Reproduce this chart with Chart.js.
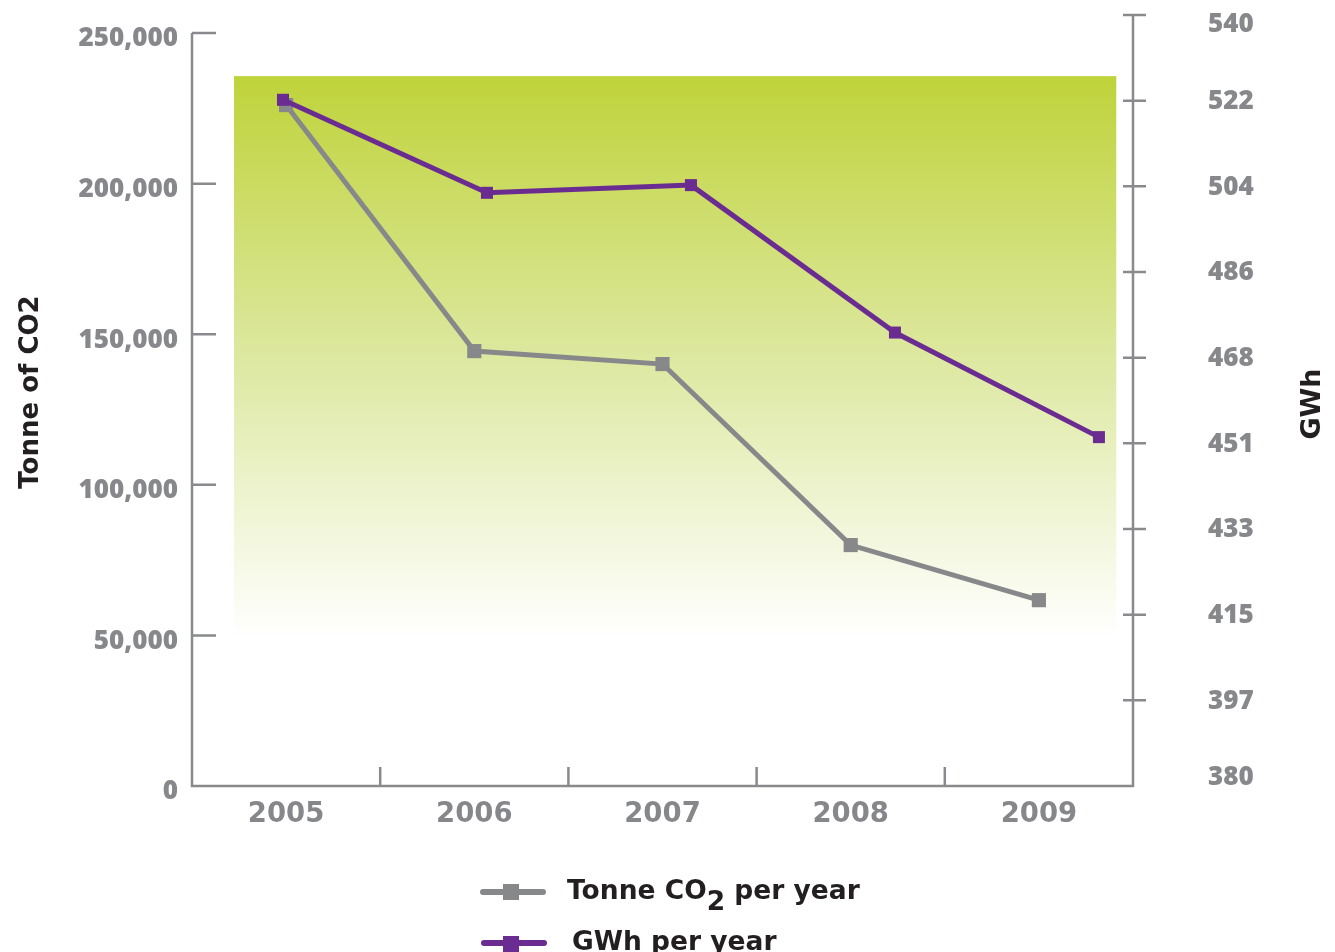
<!DOCTYPE html>
<html>
<head>
<meta charset="utf-8">
<script src="https://cdn.jsdelivr.net/npm/chart.js@4"></script>
<style>
    body { margin: 0; background: #fff; }
    #wrap { position: relative; width: 1335px; height: 952px; overflow: hidden; }
    .legend-line { position: absolute; width: 66px; height: 6px; border-radius: 3px; }
    .legend-box { position: absolute; width: 16px; height: 16px; }
    .legend-text { position: absolute; font: bold 26.5px "DejaVu Sans", sans-serif; line-height: 26px; color: #231f20; white-space: nowrap; }
    .legend-text sub { font-size: 1em; vertical-align: -0.4em; line-height: 0; }
</style>
</head>
<body>
<div id="wrap">
    <canvas id="co2Chart" width="1335" height="952"></canvas>
    <div class="legend-line" style="left:480px;top:889px;background:#87888a"></div>
    <div class="legend-box" style="left:503px;top:884px;background:#87888a"></div>
    <div class="legend-text" style="left:567px;top:877px">Tonne CO<sub>2</sub> per year</div>
    <div class="legend-line" style="left:481px;top:940px;background:#6b2c91"></div>
    <div class="legend-box" style="left:503px;top:936px;background:#6b2c91"></div>
    <div class="legend-text" style="left:572px;top:928px">GWh per year</div>
</div>
<script>
const years = ["2005", "2006", "2007", "2008", "2009"];
const tonneCO2 = [226100, 144400, 140100, 80000, 61700];
const gwhYears = [2005, 2006, 2007, 2008, 2009];
const gwh = [522.4, 503.1, 504.7, 474.1, 452.4];
const leftTicks = [0, 50000, 100000, 150000, 200000, 250000];
const leftTickLabels = ["0", "50,000", "100,000", "150,000", "200,000", "250,000"];
const rightTickLabels = ["380", "397", "415", "433", "451", "468", "486", "504", "522", "540"];

const axisColor = "#898a8d";
const tickColor = "#87888b";

// green gradient panel behind the lines
const panelPlugin = {
    id: "panel",
    beforeDatasetsDraw(chart) {
        const ctx = chart.ctx;
        const x2 = chart.scales.x2, y = chart.scales.y;
        const left = x2.getPixelForValue(2004.76);
        const right = x2.getPixelForValue(2009.085);
        const top = y.getPixelForValue(235700);
        const bottom = y.getPixelForValue(49100);
        const grad = ctx.createLinearGradient(0, top, 0, bottom);
        grad.addColorStop(0, "#bfd33a");
        grad.addColorStop(0.5, "#dde8a0");
        grad.addColorStop(1, "#ffffff");
        ctx.save();
        ctx.fillStyle = grad;
        ctx.fillRect(left, top, right - left, bottom - top);
        ctx.restore();
    }
};

// axis lines, inside ticks and rotated titles
const axesPlugin = {
    id: "axesLines",
    afterDraw(chart) {
        const ctx = chart.ctx;
        const area = chart.chartArea;
        const x = chart.scales.x, y = chart.scales.y, y2 = chart.scales.y2;
        ctx.save();
        ctx.strokeStyle = axisColor;
        ctx.lineWidth = 2.5;
        ctx.beginPath();
        ctx.moveTo(area.left, y.getPixelForValue(250000));
        ctx.lineTo(area.left, area.bottom);
        ctx.lineTo(area.right, area.bottom);
        ctx.lineTo(area.right, area.top);
        leftTicks.forEach(v => {
            if (v === 0) return;
            const py = y.getPixelForValue(v);
            ctx.moveTo(area.left, py);
            ctx.lineTo(area.left + 24, py);
        });
        y2.ticks.forEach(t => {
            if (t.value === 380) return;
            const py = y2.getPixelForValue(t.value);
            ctx.moveTo(area.right - 10, py);
            ctx.lineTo(area.right + 13, py);
        });
        for (let i = 1; i < years.length; i++) {
            const px = (x.getPixelForValue(i - 1) + x.getPixelForValue(i)) / 2;
            ctx.moveTo(px, area.bottom);
            ctx.lineTo(px, area.bottom - 19);
        }
        ctx.stroke();

        ctx.fillStyle = "#231f20";
        ctx.textAlign = "center";
        ctx.textBaseline = "alphabetic";
        ctx.font = "bold 26px 'DejaVu Sans'";
        ctx.translate(38, 392);
        ctx.rotate(-Math.PI / 2);
        ctx.fillText("Tonne of CO2", 0, 0);
        ctx.restore();

        ctx.save();
        ctx.fillStyle = "#231f20";
        ctx.textAlign = "center";
        ctx.font = "bold 27px 'DejaVu Sans'";
        ctx.translate(1320, 404);
        ctx.rotate(-Math.PI / 2);
        ctx.fillText("GWh", 0, 0);
        ctx.restore();
    }
};

// labels sit a little below their tick in the original; an empty first line nudges them down
function tickFont(lineHeight) {
    return { family: "Open Sans", weight: 800, size: 26, lineHeight: lineHeight };
}

new Chart(document.getElementById("co2Chart").getContext("2d"), {
    type: "line",
    data: {
        labels: years,
        datasets: [{
            label: "Tonne CO2 per year",
            data: tonneCO2,
            xAxisID: "x",
            yAxisID: "y",
            borderColor: "#87888a",
            backgroundColor: "#87888a",
            borderWidth: 5,
            pointStyle: "rect",
            pointRadius: 10,
            pointBorderWidth: 0,
            tension: 0,
            order: 2
        }, {
            label: "GWh per year",
            data: gwhYears.map((yr, i) => ({ x: yr, y: gwh[i] })),
            xAxisID: "x2",
            yAxisID: "y2",
            borderColor: "#6b2c91",
            backgroundColor: "#6b2c91",
            borderWidth: 5,
            pointStyle: "rect",
            pointRadius: 8.5,
            pointBorderWidth: 0,
            tension: 0,
            order: 1
        }]
    },
    options: {
        responsive: false,
        animation: false,
        layout: { padding: { top: 15, left: 0, right: 0, bottom: 0 } },
        plugins: {
            legend: { display: false },
            tooltip: { enabled: false }
        },
        scales: {
            x: {
                type: "category",
                position: "bottom",
                offset: true,
                grid: { display: false, drawTicks: false },
                border: { display: false },
                ticks: {
                    color: "#86878a",
                    padding: 12,
                    maxRotation: 0,
                    font: { family: "DejaVu Sans", weight: "bold", size: 27.5 }
                },
                afterFit(scale) { scale.height = 166; }
            },
            x2: {
                type: "linear",
                display: false,
                min: 2004.554,
                max: 2009.167
            },
            y: {
                position: "left",
                min: 0,
                max: 256000,
                grid: { display: false, drawTicks: false },
                border: { display: false },
                afterBuildTicks(scale) {
                    scale.ticks = leftTicks.map(v => ({ value: v }));
                },
                ticks: {
                    color: tickColor,
                    padding: 14,
                    font: () => tickFont("12px"),
                    callback: (v, i) => ["", leftTickLabels[i]]
                },
                afterFit(scale) {
                    scale.width = 192;
                    scale.paddingTop = 0;
                    scale.paddingBottom = 0;
                }
            },
            y2: {
                position: "right",
                min: 380,
                max: 540,
                grid: { display: false, drawTicks: false },
                border: { display: false },
                afterBuildTicks(scale) {
                    const n = rightTickLabels.length;
                    scale.ticks = rightTickLabels.map((l, i) => ({ value: 380 + i * (540 - 380) / (n - 1) }));
                },
                ticks: {
                    color: tickColor,
                    padding: 75,
                    font: (c) => {
                        if (c.index === rightTickLabels.length - 1) return tickFont("20px");
                        if (c.index === 0) return tickFont("16px");
                        return tickFont("2px");
                    },
                    callback: (v, i) => i === 0 ? [rightTickLabels[i], ""] : ["", rightTickLabels[i]]
                },
                afterFit(scale) {
                    scale.width = 202;
                    scale.paddingTop = 0;
                    scale.paddingBottom = 0;
                }
            }
        }
    },
    plugins: [panelPlugin, axesPlugin]
});
</script>
</body>
</html>
